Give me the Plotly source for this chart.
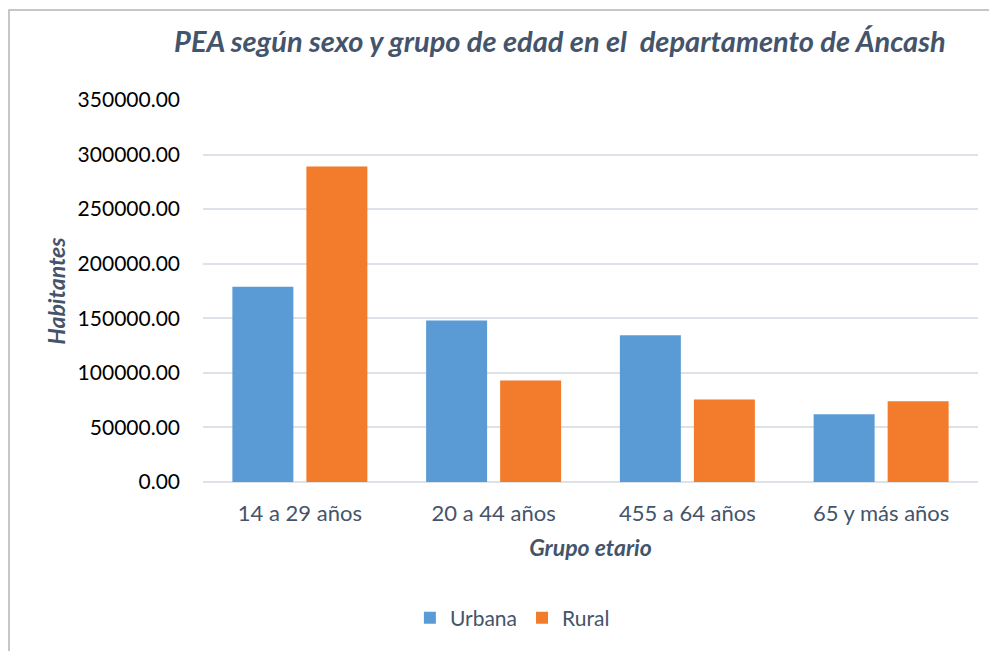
import plotly.graph_objects as go

categories = ["14 a 29 años", "20 a 44 años", "455 a 64 años", "65 y más años"]
urbana = [179000, 148000, 134500, 62000]
rural = [289000, 93000, 75500, 74000]
series_names = ["Urbana", "Rural"]
y_ticks = [0, 50000, 100000, 150000, 200000, 250000, 300000, 350000]

fig = go.Figure()
fig.add_trace(go.Bar(x=categories, y=urbana, name=series_names[0],
                     marker=dict(color="#5b9bd5", line=dict(width=0))))
fig.add_trace(go.Bar(x=categories, y=rural, name=series_names[1],
                     marker=dict(color="#f27b2c", line=dict(width=0))))

font_main = "Lato, Carlito, 'Open Sans', sans-serif"
slate = "#44546a"

# page body adds an 8px offset; figure is sized to fill the remaining window
W, H = 989, 643
L, T, R, B = 195, 92, 19, 169
plot_w = W - L - R
plot_h = H - T - B

fig.update_layout(
    width=W, height=H,
    margin=dict(l=L, r=R, t=T, b=B, autoexpand=False),
    paper_bgcolor="white", plot_bgcolor="white",
    barmode="group", bargap=0.236, bargroupgap=0.176,
    font=dict(family=font_main, color=slate),
    title=dict(text="<b><i>PEA según sexo y grupo de edad en el  departamento de Áncash</i></b>",
               x=0.558, xanchor="center", y=1 - 34 / H, yanchor="middle",
               font=dict(size=29, color=slate, family=font_main)),
    legend=dict(orientation="h", x=0.51, xanchor="center", y=33 / H, yanchor="middle",
                xref="container", yref="container",
                font=dict(size=21, color=slate), traceorder="normal"),
    showlegend=True,
)
fig.update_xaxes(
    tickfont=dict(size=22, color=slate), showgrid=False, showline=False,
    ticks="", ticklabelstandoff=16,
    title=dict(text="<b><i>Grupo etario</i></b>", font=dict(size=23, color=slate), standoff=14),
)
fig.update_yaxes(
    range=[0, 350000], tickvals=y_ticks, tickformat=".2f",
    tickfont=dict(size=21, color="#000000"),
    showgrid=True, gridcolor="#dde2e8", gridwidth=1.5,
    zeroline=True, zerolinecolor="#dde2e8", zerolinewidth=1.5,
    ticks="", ticklabelstandoff=22,
    title=dict(text="<b><i>Habitantes</i></b>", font=dict(size=23, color=slate), standoff=5),
)
# outer chart border (top and left edges visible in original)
fig.add_shape(type="rect", xref="paper", yref="paper",
              x0=(1 - L) / plot_w, x1=1.2, y0=-0.6, y1=1 + (T - 2) / plot_h,
              line=dict(color="#b4b4b4", width=1.5), layer="below")

fig.write_html("out.html")
